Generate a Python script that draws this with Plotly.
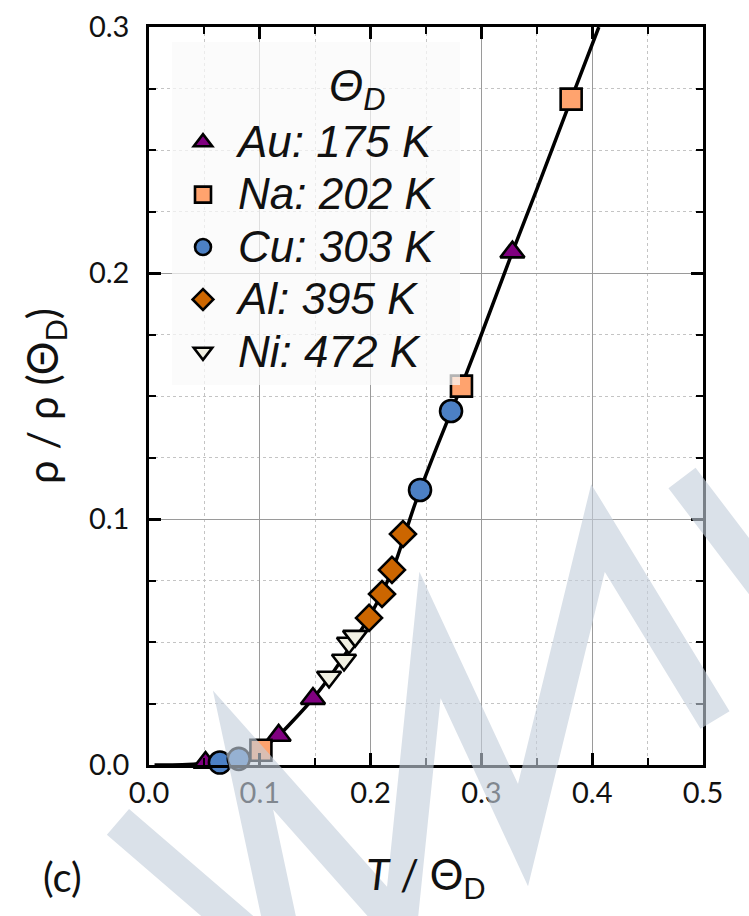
import plotly.graph_objects as go

# ---- data ----
metals = ["Au: 175 K", "Na: 202 K", "Cu: 303 K", "Al: 395 K", "Ni: 472 K"]
symbols = ["triangle-up", "square", "circle", "diamond", "triangle-down"]
colors = ["#800080", "#FFA36E", "#4C80C4", "#CC6600", "#F0EFE2"]
sizes = [21, 21, 22, 20, 21]

au_x = [0.051, 0.117, 0.148, 0.328]
au_y = [0.0010, 0.0120, 0.0270, 0.2085]
na_x = [0.101, 0.282, 0.381]
na_y = [0.0060, 0.1540, 0.2707]
cu_x = [0.064, 0.081, 0.2446, 0.2726]
cu_y = [0.0010, 0.0025, 0.1118, 0.1439]
al_x = [0.1986, 0.2103, 0.2193, 0.2292]
al_y = [0.0598, 0.0695, 0.0793, 0.0939]
ni_x = [0.1625, 0.1760, 0.1805, 0.1860]
ni_y = [0.0358, 0.0427, 0.0496, 0.0524]

curve_x = [0.005, 0.030, 0.050, 0.065, 0.080, 0.100, 0.117, 0.130, 0.148, 0.165,
           0.180, 0.200, 0.220, 0.240, 0.260, 0.282, 0.300, 0.328, 0.350, 0.381, 0.406]
curve_y = [0.0000, 0.0001, 0.0007, 0.0015, 0.0030, 0.0065, 0.0120, 0.0180, 0.0270, 0.0370,
           0.0470, 0.0610, 0.0795, 0.1060, 0.1295, 0.1540, 0.1750, 0.2085, 0.2340, 0.2707, 0.3000]

x_ticks = [0.0, 0.1, 0.2, 0.3, 0.4, 0.5]
y_ticks = [0.0, 0.1, 0.2, 0.3]

series_x = [au_x, na_x, cu_x, al_x, ni_x]
series_y = [au_y, na_y, cu_y, al_y, ni_y]

LEG_SPAN = '<span style="font-size:44px">'

fig = go.Figure()

fig.add_trace(go.Scatter(x=curve_x, y=curve_y, mode="lines", cliponaxis=False,
                         line=dict(color="black", width=3.5, shape="spline", smoothing=0.8),
                         showlegend=False, hoverinfo="skip"))

for name, sx, sy, sym, col, sz in zip(metals, series_x, series_y, symbols, colors, sizes):
    fig.add_trace(go.Scatter(
        x=sx, y=sy, mode="markers", name=LEG_SPAN + "<i>" + name + "</i></span>",
        cliponaxis=False,
        marker=dict(symbol=sym, size=sz, color=col, line=dict(color="black", width=2.6)),
    ))

tickfont = dict(family="Lato", size=29, color="#111111")
grid_major = "#9a9a9a"
grid_minor = "#c4c4c4"

fig.update_xaxes(
    range=[0, 0.5], tickvals=x_ticks, ticktext=[f"{v:.1f}" for v in x_ticks],
    showline=True, linecolor="black", linewidth=2.6, mirror="ticks",
    ticks="inside", ticklen=12, tickwidth=2.6, tickcolor="black",
    showgrid=True, gridcolor=grid_major, gridwidth=1.4, zeroline=False,
    tickfont=tickfont,
    minor=dict(dtick=0.05, ticks="inside", ticklen=7, tickwidth=2.2, tickcolor="black",
               showgrid=True, gridcolor=grid_minor, griddash="dot", gridwidth=1.4),
    title=dict(text="<i>T</i> / Θ<sub>D</sub>", font=dict(family="Lato", size=42, color="#111111"),
               standoff=54),
)
fig.update_yaxes(
    range=[0, 0.3], tickvals=y_ticks, ticktext=[f"{v:.1f}" for v in y_ticks],
    showline=True, linecolor="black", linewidth=2.6, mirror="ticks",
    ticks="inside", ticklen=12, tickwidth=2.6, tickcolor="black",
    showgrid=True, gridcolor=grid_major, gridwidth=1.4, zeroline=False,
    tickfont=tickfont, ticklabelstandoff=11,
    minor=dict(dtick=0.025, ticks="inside", ticklen=7, tickwidth=2.2, tickcolor="black",
               showgrid=True, gridcolor=grid_minor, griddash="dot", gridwidth=1.4),
    title=dict(text="ρ / ρ (Θ<sub>D</sub>)", font=dict(family="Lato", size=42, color="#111111"),
               standoff=18),
)

L, R, T, B = 149, 703, 27, 765
W, H = R - L, B - T


def px(x):
    return (x - L) / W


def py(y):
    return (B - y) / H


# legend background box (drawn above data, semi-transparent)
shapes = [dict(type="rect", xref="paper", yref="paper", layer="above",
               x0=px(172), x1=px(460), y0=py(385), y1=py(42),
               fillcolor="rgba(250,250,250,0.72)", line=dict(width=0))]

# watermark strokes
wm1 = [(118, 822), (290, 970), (243, 750), (400, 927), (430, 635), (523, 835), (598, 528), (715, 720)]
wm2 = [(682, 478), (790, 620)]
path = "M" + " L".join(f"{px(a):.4f},{py(b):.4f}" for a, b in wm1)
path += " M" + " L".join(f"{px(a):.4f},{py(b):.4f}" for a, b in wm2)
shapes.append(dict(type="path", xref="paper", yref="paper", layer="above", path=path,
                   line=dict(color="rgb(196,207,220)", width=34), opacity=0.62))

fig.update_layout(
    width=749, height=916,
    margin=dict(l=L, r=749 - R, t=T, b=916 - B, autoexpand=False),
    paper_bgcolor="white", plot_bgcolor="white",
    shapes=shapes,
    legend=dict(x=px(168), xanchor="left", y=py(111), yanchor="top",
                bgcolor="rgba(0,0,0,0)", borderwidth=0, itemwidth=60,
                font=dict(family="Liberation Sans", size=38, color="#111111"),
                tracegroupgap=0),
    annotations=[
        dict(text="<i>Θ<sub>D</sub></i>", xref="paper", yref="paper", x=px(357), y=py(89),
             xanchor="center", yanchor="middle", showarrow=False,
             font=dict(family="Liberation Sans", size=44, color="#111111")),
        dict(text="(c)", xref="paper", yref="paper", x=px(62), y=py(877),
             xanchor="center", yanchor="middle", showarrow=False,
             font=dict(family="Lato", size=40, color="#111111")),
    ],
)

fig.write_html("out.html", config={"displayModeBar": False},
               post_script="document.body.style.margin='0px';document.body.style.padding='0px';")
